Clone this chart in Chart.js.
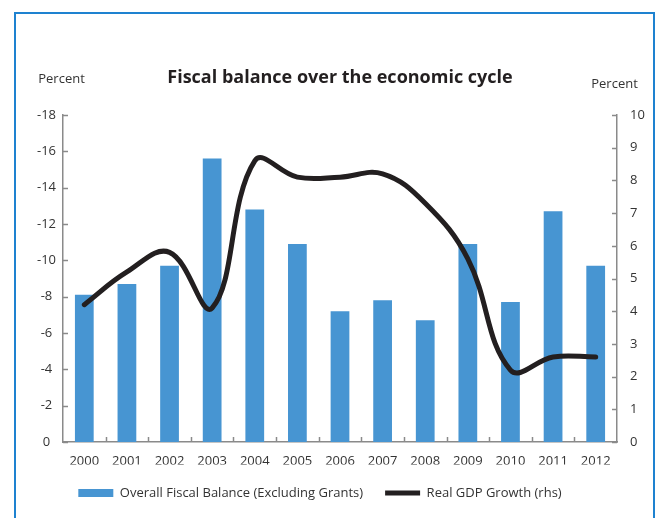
<!DOCTYPE html>
<html>
<head>
<meta charset="utf-8">
<script src="https://cdn.jsdelivr.net/npm/chart.js@4"></script>
<style>
  html, body { margin: 0; padding: 0; background: #fff; }
  #wrap { position: relative; width: 659px; height: 518px; overflow: hidden; }
  #frame { position: absolute; left: 14px; top: 12px; width: 641px; height: 520px;
           border: 2px solid #1e82d0; border-bottom: none; box-sizing: border-box; }
  canvas { position: absolute; left: 0; top: 0; }
</style>
</head>
<body>
<div id="wrap">
  <div id="frame"></div>
  <canvas id="myChart" width="659" height="518"></canvas>
</div>
<script>
const years = ['2000','2001','2002','2003','2004','2005','2006','2007','2008','2009','2010','2011','2012'];
const fiscalBalance = [-8.1,-8.7,-9.7,-15.6,-12.8,-10.9,-7.2,-7.8,-6.7,-10.9,-7.7,-12.7,-9.7];
const gdpGrowth = [4.2,5.2,5.8,4.1,8.6,8.1,8.1,8.2,7.3,5.6,2.2,2.6,2.6];

const chartTitle = 'Fiscal balance over the economic cycle';
const axisUnit = 'Percent';

const font = '"Open Sans", sans-serif';
const axisColor = '#8a8a8a';

// inward tick marks + title and unit labels
const extras = {
  id: 'extras',
  afterDraw(chart) {
    const ctx = chart.ctx;
    const area = chart.chartArea;
    const yl = chart.scales.y, yr = chart.scales.y1, x = chart.scales.x;
    ctx.save();
    ctx.strokeStyle = axisColor;
    ctx.lineWidth = 1.5;
    ctx.beginPath();
    yl.ticks.forEach((t, i) => {
      const p = Math.round(yl.getPixelForTick(i)) + 0.5;
      ctx.moveTo(area.left, p); ctx.lineTo(area.left + 5, p);
    });
    yr.ticks.forEach((t, i) => {
      const p = Math.round(yr.getPixelForTick(i)) + 0.5;
      ctx.moveTo(area.right, p); ctx.lineTo(area.right - 5, p);
    });
    for (let i = 1; i < years.length; i++) {
      const p = Math.round(x.getPixelForValue(i - 0.5)) + 0.5;
      ctx.moveTo(p, area.bottom); ctx.lineTo(p, area.bottom - 5);
    }
    ctx.stroke();

    ctx.fillStyle = '#231f20';
    ctx.textAlign = 'center';
    ctx.textBaseline = 'middle';
    ctx.font = 'bold 18px ' + font;
    ctx.fillText(chartTitle, (area.left + area.right) / 2, area.top - 37);
    ctx.fillStyle = '#333';
    ctx.font = '13px ' + font;
    ctx.fillText(axisUnit, area.left - 1.5, area.top - 36);
    ctx.fillText(axisUnit, area.right - 2.5, area.top - 31);
    ctx.restore();
  }
};

const ctx = document.getElementById('myChart').getContext('2d');

const data = {
  labels: years,
  datasets: [{
    type: 'bar',
    label: 'Overall Fiscal Balance (Excluding Grants)',
    data: fiscalBalance,
    backgroundColor: '#4795d2',
    borderWidth: 0,
    barPercentage: 0.44,
    categoryPercentage: 1,
    yAxisID: 'y',
    pointStyle: 'rect',
    order: 2
  }, {
    type: 'line',
    label: 'Real GDP Growth (rhs)',
    data: gdpGrowth,
    borderColor: '#231f20',
    backgroundColor: '#231f20',
    borderWidth: 5,
    borderCapStyle: 'round',
    tension: 0.4,
    pointRadius: 0,
    pointStyle: 'line',
    yAxisID: 'y1',
    order: 1
  }]
};

const config = {
  data,
  options: {
    responsive: false,
    animation: false,
    devicePixelRatio: 1,
    layout: { padding: { top: 115, left: -19, right: 0, bottom: 8.5 } },
    plugins: {
      title: { display: false },
      tooltip: { enabled: false },
      legend: {
        position: 'bottom',
        labels: {
          font: { family: font, size: 13 },
          color: '#333',
          usePointStyle: true,
          pointStyleWidth: 35,
          boxHeight: 8,
          padding: 22,
          sort: (a, b) => a.datasetIndex - b.datasetIndex
        }
      }
    },
    scales: {
      x: {
        grid: { display: false, drawTicks: false },
        border: { color: axisColor, width: 1.5 },
        ticks: { font: { family: font, size: 13 }, color: '#333', padding: 11, maxRotation: 0 },
        afterFit: (s) => { s.height = 22.5; }
      },
      y: {
        position: 'left',
        reverse: true,
        min: -18,
        max: 0,
        grid: { display: false, drawTicks: false },
        border: { color: axisColor, width: 1.5 },
        ticks: { stepSize: 2, font: { family: font, size: 13 }, color: '#333', padding: 7, crossAlign: 'center' },
        afterFit: (s) => { s.width = 82; }
      },
      y1: {
        position: 'right',
        min: 0,
        max: 10,
        grid: { display: false, drawTicks: false },
        border: { color: axisColor, width: 1.5 },
        ticks: { stepSize: 1, font: { family: font, size: 13 }, color: '#333', padding: 13 },
        afterFit: (s) => { s.width = 42; }
      }
    }
  },
  plugins: [extras]
};

const myChart = new Chart(ctx, config);
</script>
</body>
</html>
